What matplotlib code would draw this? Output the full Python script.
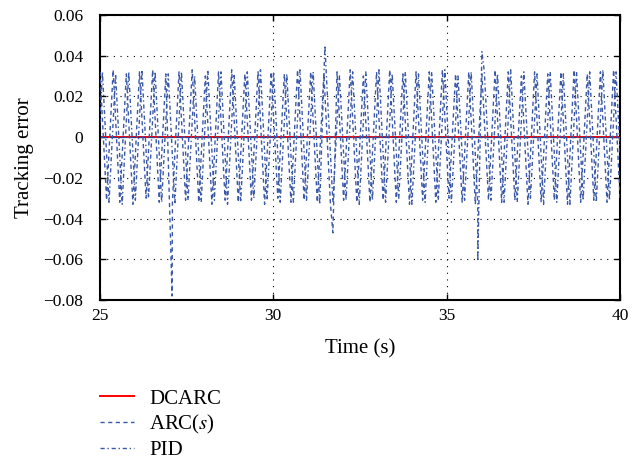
import matplotlib
matplotlib.use("Agg")
import matplotlib.pyplot as plt
import numpy as np

plt.rcParams['font.family'] = ['Liberation Serif', 'DejaVu Serif']
plt.rcParams['mathtext.fontset'] = 'stix'
plt.rcParams['font.size'] = 12.5

# extremes of the oscillation, one every 0.19 s
t_arc = 25 + 0.19 * np.arange(80)
arc = [0.032, -0.031, 0.033, -0.032, 0.031, -0.033, 0.032, -0.030, 0.033, -0.032,
       0.031, -0.032, 0.032, -0.031, 0.033, -0.032, 0.030, -0.033, 0.032, -0.031,
       0.033, -0.032, 0.031, -0.031, 0.032, -0.033, 0.032, -0.030, 0.031, -0.032,
       0.033, -0.031, 0.032, -0.032, 0.031, -0.033, 0.032, -0.031, 0.033, -0.032,
       0.030, -0.032, 0.032, -0.031, 0.033, -0.032, 0.031, -0.033, 0.032, -0.031,
       0.032, -0.032, 0.033, -0.030, 0.031, -0.032, 0.032, -0.033, 0.031, -0.031,
       0.033, -0.032, 0.032, -0.031, 0.030, -0.033, 0.032, -0.032, 0.031, -0.031,
       0.032, -0.033, 0.033, -0.032, 0.031, -0.031, 0.032, -0.032, 0.033, -0.031]
arc_spk_t = [27.08, 31.72]
arc_spk = [-0.078, -0.047]

t_pid = 24.88 + 0.19 * np.arange(81)
pid = [-0.031, 0.032, -0.032, 0.031, -0.033, 0.032, -0.031, 0.033, -0.030, 0.032,
       -0.032, 0.031, -0.033, 0.032, -0.031, 0.030, -0.032, 0.033, -0.031, 0.032,
       -0.033, 0.031, -0.032, 0.032, -0.030, 0.033, -0.031, 0.032, -0.032, 0.031,
       -0.032, 0.033, -0.031, 0.032, -0.033, 0.031, -0.032, 0.030, -0.031, 0.032,
       -0.033, 0.032, -0.031, 0.033, -0.032, 0.031, -0.030, 0.032, -0.033, 0.031,
       -0.032, 0.032, -0.031, 0.033, -0.032, 0.030, -0.031, 0.032, -0.033, 0.032,
       -0.031, 0.031, -0.032, 0.033, -0.032, 0.032, -0.030, 0.031, -0.033, 0.032,
       -0.032, 0.031, -0.033, 0.032, -0.031, 0.032, -0.032, 0.033, -0.031, 0.032,
       -0.032]
pid_spk_t = [31.49, 35.9, 36.02]
pid_spk = [0.045, -0.061, 0.042]

t_dc = [25, 40]
dcarc = [0, 0]

blue = '#3a58a8'


def merge(t, v, ts, vs):
    tt = np.concatenate([t, ts])
    vv = np.concatenate([v, vs])
    i = np.argsort(tt)
    return tt[i], vv[i]


fig = plt.figure(figsize=(6.41, 4.63), dpi=100)
ax = fig.add_axes([0.156, 0.352, 0.811, 0.616])

ax.plot(t_dc, dcarc, color='red', lw=1.4, label='DCARC', zorder=2)
ax.plot(t_dc, dcarc, color='#2a3f8f', lw=0.9, ls=(0, (6, 1.5)), zorder=3)
x, y = merge(t_arc, arc, arc_spk_t, arc_spk)
ax.plot(x, y, color=blue, lw=1.0, ls=(0, (3, 2.5)), label='ARC($s$)', zorder=4)
x, y = merge(t_pid, pid, pid_spk_t, pid_spk)
ax.plot(x, y, color=blue, lw=1.0, ls=(0, (3, 2, 1, 2)), label='PID', zorder=4)

ax.set_xlim(25, 40)
ax.set_ylim(-0.08, 0.06)
ax.set_xticks([25, 30, 35, 40])
yt = [-0.08, -0.06, -0.04, -0.02, 0, 0.02, 0.04, 0.06]
ax.set_yticks(yt)
ax.set_yticklabels(['\u22120.08', '\u22120.06', '\u22120.04', '\u22120.02', '0', '0.02', '0.04', '0.06'])
ax.tick_params(direction='in', length=4, width=1, top=True, right=True)
ax.tick_params(axis='x', pad=6)
ax.tick_params(axis='y', pad=12)
ax.grid(True, color='black', ls=(0, (1, 5)), lw=0.8)
for s in ax.spines.values():
    s.set_linewidth(1.5)
ax.set_xlabel('Time (s)', fontsize=15, labelpad=11)
ax.set_ylabel('Tracking error', fontsize=15, labelpad=7)

ax.legend(loc='upper left', bbox_to_anchor=(0.156, 0.16), bbox_transform=fig.transFigure,
          frameon=False, borderpad=0, handlelength=1.63, handletextpad=0.72,
          labelspacing=0.22, borderaxespad=0, fontsize=15)

fig.savefig('out.png', dpi=100)
